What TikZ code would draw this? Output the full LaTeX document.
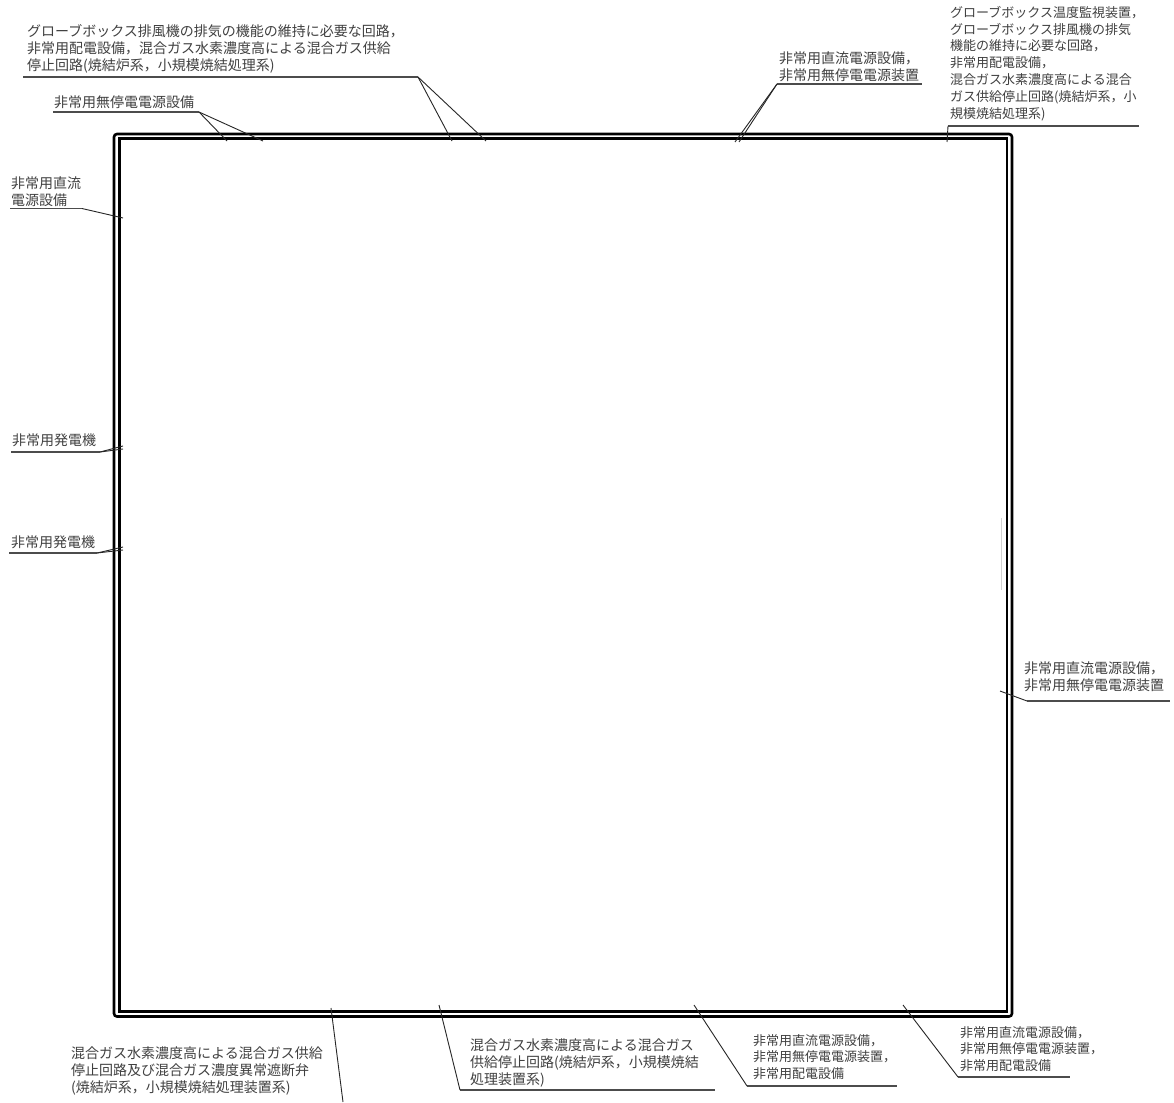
\documentclass[tikz,border=0pt]{standalone}
\usepackage{fontspec}
\newfontfamily\jp{Noto Sans CJK JP}
\begin{document}
\begin{tikzpicture}[x=1pt,y=-1pt,
  lbl/.style={anchor=north west,inner sep=0pt,align=left,text=black!75,font=\jp\fontsize{14}{17}\selectfont},
  lblsm/.style={lbl,font=\jp\fontsize{13}{16.8}\selectfont},
  uline/.style={draw=black!70,line width=1.1pt},
  leader/.style={draw=black!85,line width=0.9pt},
  frameo/.style={draw=black,line width=2.6pt,rounded corners=3pt},
  framei/.style={draw=black,line width=2.2pt}]
\useasboundingbox (0,0) rectangle (1174,1102);
\fill[white] (0,0) rectangle (1174,1102);
% frame
\draw[frameo] (114,134) rectangle (1012,1016.5);
\draw[framei] (119.5,138.5) rectangle (1007,1011.5);
\draw[black!18,line width=0.8pt] (1001,518) -- (1001,590);

% ---- top left long label
\node[lbl] (l1) at (27,24) {グローブボックス排風機の排気の機能の維持に必要な回路，\\非常用配電設備，混合ガス水素濃度高による混合ガス供給\\停止回路(焼結炉系，小規模焼結処理系)};
\coordinate (u1s) at (23,77); \coordinate (u1k) at (418,77);
\coordinate (e1a) at (452,141); \coordinate (e1b) at (486,141);
\draw[uline] (u1s) -- (u1k);
\draw[leader] (u1k) -- (e1a);
\draw[leader] (u1k) -- (e1b);

% ---- top left short label
\node[lbl] (l2) at (54,96) {非常用無停電電源設備};
\coordinate (u2s) at (53,112); \coordinate (u2k) at (199,112);
\coordinate (e2a) at (227,141); \coordinate (e2b) at (263,141);
\draw[uline] (u2s) -- (u2k);
\draw[leader] (u2k) -- (e2a);
\draw[leader] (u2k) -- (e2b);

% ---- top middle label
\node[lbl] (l3) at (779,51) {非常用直流電源設備，\\非常用無停電電源装置};
\coordinate (u3k) at (777,84); \coordinate (u3e) at (922,84);
\coordinate (e3a) at (735,142); \coordinate (e3b) at (739,142);
\draw[uline] (u3k) -- (u3e);
\draw[leader] (u3k) -- (e3a);
\draw[leader] (u3k) -- (e3b);

% ---- top right label
\node[lblsm] (l4) at (950,6) {グローブボックス温度監視装置，\\グローブボックス排風機の排気\\機能の維持に必要な回路，\\非常用配電設備，\\混合ガス水素濃度高による混合\\ガス供給停止回路(焼結炉系，小\\規模焼結処理系)};
\coordinate (u4k) at (948,126); \coordinate (u4e) at (1139,126);
\coordinate (e4) at (947,142);
\draw[uline] (u4k) -- (u4e);
\draw[leader] (u4k) -- (e4);

% ---- left labels
\node[lbl] (l5) at (11,176) {非常用直流\\電源設備};
\coordinate (u5s) at (10,208.5); \coordinate (u5k) at (82,208.5);
\coordinate (e5) at (123,218);
\draw[uline] (u5s) -- (u5k);
\draw[leader] (u5k) -- (e5);

\node[lbl] (l6) at (12,434) {非常用発電機};
\coordinate (u6s) at (11,452); \coordinate (u6k) at (100,452);
\coordinate (e6a) at (123,446); \coordinate (e6b) at (123,449);
\draw[uline] (u6s) -- (u6k);
\draw[leader] (u6k) -- (e6a);
\draw[leader] (u6k) -- (e6b);

\node[lbl] (l7) at (11,536) {非常用発電機};
\coordinate (u7s) at (9,553); \coordinate (u7k) at (97,553);
\coordinate (e7a) at (123,547); \coordinate (e7b) at (123,550);
\draw[uline] (u7s) -- (u7k);
\draw[leader] (u7k) -- (e7a);
\draw[leader] (u7k) -- (e7b);

% ---- right label
\node[lbl] (l8) at (1024,661) {非常用直流電源設備，\\非常用無停電電源装置};
\coordinate (u8k) at (1027,701); \coordinate (u8e) at (1170,701);
\coordinate (e8) at (1000,691);
\draw[uline] (u8k) -- (u8e);
\draw[leader] (u8k) -- (e8);

% ---- bottom labels
\node[lbl] (la) at (71,1047) {混合ガス水素濃度高による混合ガス供給\\停止回路及び混合ガス濃度異常遮断弁\\(焼結炉系，小規模焼結処理装置系)};
\coordinate (ea1) at (331,1008); \coordinate (ea2) at (343,1102);
\draw[leader] (ea1) -- (ea2);

\node[lbl] (lb) at (470,1039) {混合ガス水素濃度高による混合ガス\\供給停止回路(焼結炉系，小規模焼結\\処理装置系)};
\coordinate (ubk) at (460,1090); \coordinate (ube) at (715,1090);
\coordinate (eb) at (439,1005);
\draw[uline] (ubk) -- (ube);
\draw[leader] (eb) -- (ubk);

\node[lblsm] (lc) at (753,1034) {非常用直流電源設備，\\非常用無停電電源装置，\\非常用配電設備};
\coordinate (uck) at (747,1086); \coordinate (uce) at (897,1086);
\coordinate (ec) at (694,1005);
\draw[uline] (uck) -- (uce);
\draw[leader] (ec) -- (uck);

\node[lblsm] (ld) at (960,1026) {非常用直流電源設備，\\非常用無停電電源装置，\\非常用配電設備};
\coordinate (udk) at (958,1077); \coordinate (ude) at (1070,1077);
\coordinate (ed) at (903,1005);
\draw[uline] (udk) -- (ude);
\draw[leader] (ed) -- (udk);
\end{tikzpicture}
\end{document}
